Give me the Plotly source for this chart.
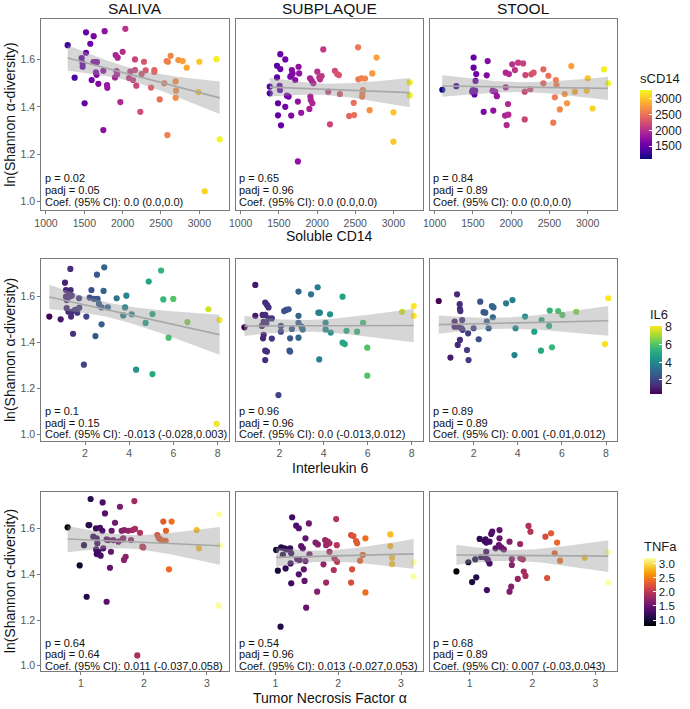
import numpy as np
import plotly.graph_objects as go

W, H = 690, 709

# ---------------- data ----------------
sample_types = ["SALIVA", "SUBPLAQUE", "STOOL"]
marker_names = ["sCD14", "IL6", "TNFa"]
x_titles = ["Soluble CD14", "Interleukin 6", "Tumor Necrosis Factor α"]
y_title = "ln(Shannon α-diversity)"

saliva_scd14_x = [1283, 1522, 1622, 1765, 2035, 1578, 1522, 1465, 1478, 1478, 1374, 1504, 1748, 1596, 1620, 1650,
                  1665, 1652, 1660, 1683, 1748, 1796, 1800, 1909, 1935, 2000, 1920, 1928, 1900, 1970, 2083, 2100,
                  2161, 2161, 2135, 2178, 2230, 2248, 2278, 2300, 2370, 2413, 2413, 2483, 2543, 2574, 2590, 2626,
                  2583, 2691, 2696, 2691, 2726, 2783, 2835, 3000, 2987, 3222, 3265, 3070]
saliva_scd14_y = [1.660, 1.714, 1.698, 1.719, 1.729, 1.666, 1.628, 1.605, 1.583, 1.569, 1.523, 1.415, 1.302, 1.513,
                  1.589, 1.589, 1.589, 1.545, 1.535, 1.497, 1.552, 1.492, 1.480, 1.618, 1.607, 1.632, 1.551, 1.537,
                  1.524, 1.420, 1.521, 1.548, 1.600, 1.555, 1.513, 1.489, 1.379, 1.538, 1.590, 1.554, 1.481, 1.555,
                  1.547, 1.431, 1.499, 1.593, 1.590, 1.615, 1.281, 1.507, 1.468, 1.438, 1.597, 1.593, 1.565, 1.590,
                  1.462, 1.601, 1.263, 1.044]

subplaque_scd14_x = [1381, 1381, 1519, 1584, 1476, 1519, 1476, 1510, 1515, 1489, 1489, 1528, 1584, 1606, 1628, 1662,
                     1670, 1680, 1668, 1650, 1714, 1758, 1766, 1749, 1749, 1792, 1900, 1909, 1930, 1952, 1913, 1918,
                     1939, 2004, 2030, 2039, 2060, 2082, 2147, 2169, 2234, 2264, 2286, 2299, 2420, 2485, 2480, 2537,
                     2541, 2584, 2628, 2590, 2595, 2600, 2688, 2723, 2779, 3000, 3000, 3212, 3212]
subplaque_scd14_y = [1.485, 1.457, 1.622, 1.600, 1.573, 1.559, 1.524, 1.488, 1.471, 1.415, 1.364, 1.322, 1.400, 1.447,
                     1.443, 1.363, 1.555, 1.541, 1.534, 1.527, 1.513, 1.569, 1.541, 1.422, 1.170, 1.375, 1.391, 1.520,
                     1.510, 1.499, 1.443, 1.429, 1.415, 1.548, 1.524, 1.516, 1.530, 1.642, 1.464, 1.326, 1.552, 1.538,
                     1.534, 1.454, 1.361, 1.365, 1.417, 1.651, 1.516, 1.520, 1.519, 1.443, 1.457, 1.471, 1.386, 1.541,
                     1.608, 1.377, 1.253, 1.503, 1.448]

stool_scd14_x = [1100, 1283, 1509, 1509, 1543, 1534, 1500, 1530, 1520, 1490, 1693, 1680, 1641, 1766, 1757, 1791,
                 1813, 1929, 1971, 1929, 1959, 1920, 1963, 1941, 2014, 2049, 2091, 2156, 2186, 2177, 2177, 2263,
                 2293, 2250, 2421, 2421, 2486, 2550, 2584, 2593, 2571, 2636, 2700, 2730, 2786, 2833, 2987, 3000,
                 3064, 3214, 3266]
stool_scd14_y = [1.472, 1.487, 1.608, 1.565, 1.538, 1.509, 1.470, 1.468, 1.452, 1.464, 1.593, 1.533, 1.379, 1.384,
                 1.468, 1.464, 1.445, 1.544, 1.538, 1.482, 1.412, 1.363, 1.367, 1.323, 1.579, 1.555, 1.586, 1.583,
                 1.534, 1.464, 1.347, 1.537, 1.544, 1.474, 1.558, 1.499, 1.531, 1.333, 1.513, 1.492, 1.440, 1.389,
                 1.454, 1.415, 1.572, 1.464, 1.468, 1.520, 1.393, 1.558, 1.499]

saliva_il6_x = [0.387, 0.90, 1.095, 1.337, 1.14, 1.25, 1.35, 1.14, 1.17, 1.29, 1.40, 1.17, 1.25, 1.40, 1.55, 1.37,
                1.46, 1.73, 1.74, 1.65, 1.95, 2.06, 2.21, 2.29, 2.41, 2.57, 2.54, 2.47, 2.63, 2.75, 2.84, 2.87,
                2.75, 3.03, 3.43, 3.81, 3.73, 3.87, 4.11, 4.31, 4.74, 4.88, 5.05, 5.05, 5.44, 5.54, 5.78, 5.99,
                6.63, 7.58, 8.08, 7.95]
saliva_il6_y = [1.513, 1.501, 1.661, 1.721, 1.629, 1.622, 1.629, 1.600, 1.585, 1.600, 1.604, 1.550, 1.534, 1.534,
                1.542, 1.513, 1.438, 1.593, 1.552, 1.530, 1.303, 1.513, 1.596, 1.629, 1.590, 1.590, 1.696, 1.428,
                1.568, 1.553, 1.625, 1.728, 1.479, 1.553, 1.593, 1.553, 1.518, 1.604, 1.523, 1.281, 1.485, 1.666,
                1.524, 1.262, 1.714, 1.588, 1.421, 1.590, 1.489, 1.545, 1.498, 1.045]

subplaque_il6_x = [0.406, 0.90, 0.90, 1.20, 1.23, 1.35, 1.35, 1.43, 1.50, 1.28, 1.40, 1.25, 1.28, 1.35, 1.43, 1.35,
                   1.50, 1.65, 1.65, 1.95, 2.06, 2.06, 2.21, 2.30, 2.41, 2.45, 2.48, 2.48, 2.56, 2.86, 2.86, 2.86,
                   2.86, 3.00, 3.05, 3.43, 3.73, 3.76, 3.83, 3.80, 4.09, 4.09, 4.29, 4.32, 4.86, 4.86, 4.96, 5.04,
                   5.52, 5.79, 5.98, 5.98, 7.56, 8.09, 8.09]
subplaque_il6_y = [1.466, 1.651, 1.516, 1.472, 1.520, 1.520, 1.574, 1.564, 1.553, 1.490, 1.483, 1.418, 1.433, 1.364,
                   1.360, 1.323, 1.505, 1.505, 1.417, 1.170, 1.472, 1.447, 1.537, 1.542, 1.545, 1.364, 1.360, 1.418,
                   1.459, 1.622, 1.516, 1.486, 1.421, 1.469, 1.457, 1.610, 1.641, 1.530, 1.530, 1.326, 1.486, 1.457,
                   1.523, 1.443, 1.600, 1.399, 1.393, 1.451, 1.447, 1.486, 1.377, 1.255, 1.534, 1.559, 1.516]

stool_il6_x = [0.42, 1.25, 1.37, 1.38, 1.40, 1.14, 1.48, 1.14, 1.30, 1.45, 1.50, 1.75, 2.00, 1.38, 1.28, 0.95,
               1.70, 1.77, 2.30, 2.45, 2.53, 2.60, 2.68, 2.83, 2.90, 2.87, 2.23, 3.47, 3.76, 3.85, 3.90, 4.33,
               4.75, 5.05, 5.08, 5.42, 5.45, 5.55, 5.83, 6.02, 6.65, 8.10, 7.95]
stool_il6_y = [1.581, 1.610, 1.567, 1.546, 1.537, 1.491, 1.498, 1.469, 1.469, 1.462, 1.455, 1.440, 1.462, 1.411,
               1.389, 1.334, 1.367, 1.323, 1.578, 1.532, 1.530, 1.491, 1.462, 1.559, 1.553, 1.510, 1.414, 1.571,
               1.585, 1.345, 1.462, 1.513, 1.447, 1.364, 1.498, 1.472, 1.539, 1.379, 1.537, 1.520, 1.534, 1.593,
               1.393]

saliva_tnfa_x = [0.788, 0.979, 1.048, 1.09, 1.12, 1.132, 1.153, 1.196, 1.238, 1.302, 1.339, 1.249, 1.259, 1.24,
                 1.275, 1.25, 1.312, 1.344, 1.381, 1.354, 1.407, 1.434, 1.407, 1.476, 1.46, 1.487, 1.54, 1.513,
                 1.593, 1.619, 1.646, 1.688, 1.672, 1.66, 1.683, 1.709, 1.794, 1.751, 1.82, 1.857, 1.847, 1.937,
                 1.894, 1.974, 1.989, 2.212, 2.238, 2.28, 2.307, 2.344, 2.307, 2.349, 2.439, 2.397, 2.836, 2.873,
                 3.196, 3.206, 3.19]
saliva_tnfa_y = [1.606, 1.439, 1.528, 1.302, 1.616, 1.616, 1.730, 1.565, 1.601, 1.604, 1.591, 1.558, 1.536, 1.509,
                 1.499, 1.489, 1.482, 1.715, 1.667, 1.514, 1.553, 1.550, 1.280, 1.499, 1.429, 1.591, 1.626, 1.550,
                 1.543, 1.696, 1.591, 1.594, 1.558, 1.553, 1.463, 1.477, 1.550, 1.591, 1.594, 1.599, 1.721, 1.582,
                 1.045, 1.521, 1.518, 1.572, 1.558, 1.550, 1.547, 1.547, 1.631, 1.591, 1.631, 1.422, 1.594, 1.514,
                 1.663, 1.526, 1.263]

subplaque_tnfa_x = [1.01, 1.037, 1.09, 1.143, 1.18, 1.233, 1.117, 1.16, 1.24, 1.25, 1.265, 1.25, 1.329, 1.371,
                    1.345, 1.382, 1.371, 1.408, 1.435, 1.451, 1.477, 1.477, 1.462, 1.488, 1.531, 1.541, 1.637,
                    1.674, 1.663, 1.764, 1.79, 1.833, 1.859, 1.806, 1.806, 1.859, 1.939, 1.981, 1.928, 1.966,
                    1.976, 2.204, 2.241, 2.284, 2.30, 2.22, 2.204, 2.39, 2.347, 2.432, 2.432, 2.83, 2.83, 2.857,
                    2.857, 3.20, 3.20, 1.08]
subplaque_tnfa_y = [1.507, 1.416, 1.518, 1.514, 1.509, 1.514, 1.485, 1.426, 1.448, 1.361, 1.650, 1.492, 1.613,
                    1.602, 1.467, 1.463, 1.400, 1.524, 1.514, 1.422, 1.558, 1.458, 1.371, 1.254, 1.623, 1.488,
                    1.539, 1.531, 1.324, 1.444, 1.550, 1.543, 1.536, 1.528, 1.364, 1.499, 1.470, 1.455, 1.419,
                    1.642, 1.528, 1.572, 1.568, 1.546, 1.536, 1.422, 1.364, 1.485, 1.460, 1.558, 1.321, 1.575,
                    1.524, 1.473, 1.445, 1.453, 1.391, 1.171]

stool_tnfa_x = [0.79, 0.98, 1.09, 1.185, 1.254, 1.29, 1.317, 1.265, 1.275, 1.16, 1.238, 1.265, 1.254, 1.317, 1.344,
                1.36, 1.476, 1.476, 1.413, 1.466, 1.503, 1.545, 1.635, 1.672, 1.672, 1.661, 1.635, 1.767, 1.804,
                1.81, 1.847, 1.862, 1.889, 1.937, 1.968, 2.206, 2.296, 2.392, 2.354, 2.439, 2.233, 2.831, 3.196,
                3.206, 1.04, 1.106]
stool_tnfa_y = [1.413, 1.453, 1.466, 1.476, 1.474, 1.463, 1.448, 1.499, 1.331, 1.555, 1.546, 1.539, 1.553, 1.543,
                1.577, 1.587, 1.594, 1.558, 1.514, 1.528, 1.518, 1.509, 1.543, 1.467, 1.441, 1.346, 1.324, 1.380,
                1.533, 1.470, 1.466, 1.412, 1.393, 1.612, 1.587, 1.565, 1.580, 1.539, 1.492, 1.460, 1.384, 1.473,
                1.496, 1.364, 1.366, 1.387]

p_values = [["0.02", "0.65", "0.84"], ["0.1", "0.96", "0.89"], ["0.64", "0.54", "0.68"]]
padj_values = [["0.05", "0.96", "0.89"], ["0.15", "0.96", "0.89"], ["0.64", "0.96", "0.89"]]
coef_values = [["0.0 (0.0,0.0)", "0.0 (0.0,0.0)", "0.0 (0.0,0.0)"],
               ["-0.013 (-0.028,0.003)", "0.0 (-0.013,0.012)", "0.001 (-0.01,0.012)"],
               ["0.011 (-0.037,0.058)", "0.013 (-0.027,0.053)", "0.007 (-0.03,0.043)"]]

x_tickvals = [[1000, 1500, 2000, 2500, 3000], [2, 4, 6, 8], [1, 2, 3]]
y_tickvals = [1.0, 1.2, 1.4, 1.6]
cbar_tickvals = [[1500, 2000, 2500, 3000], [2, 4, 6, 8], [1.0, 1.5, 2.0, 2.5, 3.0]]
cbar_tickformat = ["d", "d", ".1f"]

panels_x = [[saliva_scd14_x, subplaque_scd14_x, stool_scd14_x],
            [saliva_il6_x, subplaque_il6_x, stool_il6_x],
            [saliva_tnfa_x, subplaque_tnfa_x, stool_tnfa_x]]
panels_y = [[saliva_scd14_y, subplaque_scd14_y, stool_scd14_y],
            [saliva_il6_y, subplaque_il6_y, stool_il6_y],
            [saliva_tnfa_y, subplaque_tnfa_y, stool_tnfa_y]]

# ---------------- styling / geometry ----------------
FONT = "Liberation Sans, Arial, sans-serif"
colorscales = ["Plasma", "Viridis", "Inferno"]
col_px = [(41.3, 229.0), (236.0, 423.0), (430.0, 617.3)]
row_px = [(19.3, 210.0), (259.3, 440.7), (491.7, 670.7)]
x_ranges = [[939, 3387], [0.024, 8.51], [0.37, 3.35]]
y_ranges = [[0.965, 1.769], [0.971, 1.763], [0.978, 1.762]]
cbar_bottom_px = [159, 394, 626]
cbar_len_px = [89, 88, 88]
cbar_left_px = [640, 650, 644]
cbar_font = [12, 12.5, 11.5]
xtitle_px = [236, 468, 698]
BORDER = "#7a7a7a"


def t_quantile(df, z=1.959964):
    return z + (z ** 3 + z) / (4 * df) + (5 * z ** 5 + 16 * z ** 3 + 3 * z) / (96 * df ** 2)


def lm_band(x, y, n=80):
    x = np.asarray(x, float)
    y = np.asarray(y, float)
    A = np.vstack([np.ones_like(x), x]).T
    beta = np.linalg.lstsq(A, y, rcond=None)[0]
    resid = y - A @ beta
    dof = len(x) - 2
    s2 = resid @ resid / dof
    xs = np.linspace(x.min(), x.max(), n)
    xbar = x.mean()
    sxx = ((x - xbar) ** 2).sum()
    se = np.sqrt(s2 * (1.0 / len(x) + (xs - xbar) ** 2 / sxx))
    t = t_quantile(dof)
    yhat = beta[0] + beta[1] * xs
    return xs, yhat, yhat - t * se, yhat + t * se


fig = go.Figure()
layout = dict()
annotations = []

for r in range(3):
    allx = np.concatenate([np.asarray(v, float) for v in panels_x[r]])
    cmin, cmax = float(allx.min()), float(allx.max())
    for c in range(3):
        i = r * 3 + c + 1
        xa = "x" if i == 1 else f"x{i}"
        ya = "y" if i == 1 else f"y{i}"
        xs_ = panels_x[r][c]
        ys_ = panels_y[r][c]
        marker = dict(color=xs_, colorscale=colorscales[r], cmin=cmin, cmax=cmax, size=6.2,
                      line=dict(width=0), showscale=(c == 0))
        if c == 0:
            marker["colorbar"] = dict(
                x=cbar_left_px[r] / W, xanchor="left", y=1 - cbar_bottom_px[r] / H, yanchor="bottom",
                len=cbar_len_px[r] / H, lenmode="fraction", thickness=12, thicknessmode="pixels",
                outlinewidth=0, ticks="inside", ticklen=3, tickcolor="white", tickwidth=1,
                tickvals=cbar_tickvals[r], tickformat=cbar_tickformat[r],
                tickfont=dict(family=FONT, size=cbar_font[r], color="#1a1a1a"),
                title=dict(text=marker_names[r], side="top", font=dict(family=FONT, size=13, color="#1a1a1a")),
                xpad=0, ypad=0)
        fig.add_trace(go.Scatter(x=xs_, y=ys_, mode="markers", marker=marker, xaxis=xa, yaxis=ya,
                                 showlegend=False, hoverinfo="skip"))
        bx, by, lo, hi = lm_band(xs_, ys_)
        fig.add_trace(go.Scatter(x=np.concatenate([bx, bx[::-1]]), y=np.concatenate([hi, lo[::-1]]),
                                 mode="lines", fill="toself", fillcolor="rgba(153,153,153,0.4)",
                                 line=dict(width=0), xaxis=xa, yaxis=ya, showlegend=False, hoverinfo="skip"))
        fig.add_trace(go.Scatter(x=bx, y=by, mode="lines", line=dict(color="#a8a8a8", width=1.6),
                                 xaxis=xa, yaxis=ya, showlegend=False, hoverinfo="skip"))

        x0, x1 = col_px[c]
        t0, t1 = row_px[r]
        axname = "xaxis" if i == 1 else f"xaxis{i}"
        ayname = "yaxis" if i == 1 else f"yaxis{i}"
        layout[axname] = dict(domain=[x0 / W, x1 / W], range=x_ranges[r], anchor=ya,
                              tickvals=x_tickvals[r], ticks="outside", ticklen=3, tickcolor=BORDER,
                              tickfont=dict(family=FONT, size=10.5, color="#555555"),
                              showline=True, linecolor=BORDER, linewidth=1, mirror=True,
                              showgrid=False, zeroline=False, fixedrange=True)
        layout[ayname] = dict(domain=[1 - t1 / H, 1 - t0 / H], range=y_ranges[r], anchor=xa,
                              tickvals=y_tickvals, tickformat=".1f",
                              ticks="outside" if c == 0 else "", ticklen=3, tickcolor=BORDER,
                              showticklabels=(c == 0),
                              tickfont=dict(family=FONT, size=10.5, color="#555555"),
                              showline=True, linecolor=BORDER, linewidth=1, mirror=True,
                              showgrid=False, zeroline=False, fixedrange=True)
        # stats text
        for txt, yv in [(f"p = {p_values[r][c]}", 1.10), (f"padj = {padj_values[r][c]}", 1.05),
                        (f"Coef. (95% CI): {coef_values[r][c]}", 1.0)]:
            annotations.append(dict(text=txt, xref=f"{xa} domain", yref=ya, x=0.008, y=yv,
                                    xanchor="left", yanchor="middle", showarrow=False,
                                    font=dict(family=FONT, size=11, color="#111111")))

    # y-axis title per row
    t0, t1 = row_px[r]
    annotations.append(dict(text=y_title, xref="paper", yref="paper", x=10 / W, y=1 - (t0 + t1) / 2 / H,
                            textangle=-90, xanchor="center", yanchor="middle", showarrow=False,
                            font=dict(family=FONT, size=14, color="#111111")))
    # x-axis title per row
    annotations.append(dict(text=x_titles[r], xref="paper", yref="paper", x=(col_px[1][0] + col_px[1][1]) / 2 / W,
                            y=1 - xtitle_px[r] / H, xanchor="center", yanchor="middle", showarrow=False,
                            font=dict(family=FONT, size=14, color="#111111")))

# strip titles
for c in range(3):
    annotations.append(dict(text=sample_types[c], xref="paper", yref="paper",
                            x=(col_px[c][0] + col_px[c][1]) / 2 / W, y=1 - 8.5 / H,
                            xanchor="center", yanchor="middle", showarrow=False,
                            font=dict(family=FONT, size=15.5, color="#111111")))

fig.update_layout(**layout)
fig.update_layout(width=W, height=H, margin=dict(l=0, r=0, t=0, b=0, autoexpand=False),
                  paper_bgcolor="white", plot_bgcolor="white", annotations=annotations,
                  font=dict(family=FONT), showlegend=False)

fig.write_html("out.html", config={"displayModeBar": False},
               post_script="document.body.style.margin='0px';")
